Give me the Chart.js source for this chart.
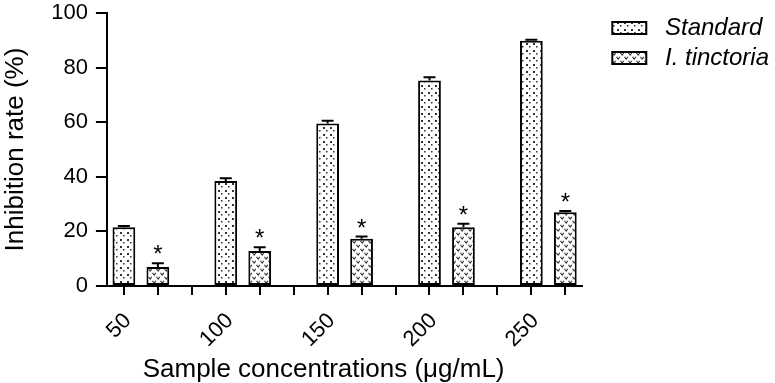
<!DOCTYPE html>
<html>
<head>
<meta charset="utf-8">
<script src="https://cdn.jsdelivr.net/npm/chart.js@4/dist/chart.umd.min.js"></script>
<style>
  html, body { margin: 0; padding: 0; background: #fff; }
  #wrap { width: 775px; height: 383px; }
</style>
</head>
<body>
<div id="wrap"><canvas id="c" width="775" height="383"></canvas></div>
<script>
// ---- data ----
const concentrations = ['50', '100', '150', '200', '250'];
const standardValues = [21.5, 38.5, 59.5, 75.3, 89.8];
const standardErrors = [0.5, 1.0, 1.0, 1.2, 0.4];
const tinctoriaValues = [7.0, 12.8, 17.3, 21.5, 27.0];
const tinctoriaErrors = [1.3, 1.4, 0.8, 1.3, 0.5];
const tinctoriaSignificant = [true, true, true, true, true];
const yTicks = [0, 20, 40, 60, 80, 100];
const xTitle = 'Sample concentrations (μg/mL)';
const yTitle = 'Inhibition rate (%)';

// slot layout: [standard, tinctoria, gap] per concentration (last gap dropped)
const slotLabels = [];
const stdSlots = [], tinSlots = [], stdErrSlots = [], tinErrSlots = [], sigSlots = [];
concentrations.forEach((c, i) => {
  slotLabels.push(c, '', '');
  stdSlots.push(standardValues[i], null, null);
  tinSlots.push(null, tinctoriaValues[i], null);
  stdErrSlots.push(standardErrors[i], null, null);
  tinErrSlots.push(null, tinctoriaErrors[i], null);
  sigSlots.push(false, tinctoriaSignificant[i], false);
});
slotLabels.pop(); stdSlots.pop(); tinSlots.pop(); stdErrSlots.pop(); tinErrSlots.pop(); sigSlots.pop();

// ---- patterns ----
function dotPattern() {
  const t = document.createElement('canvas');
  t.width = 7; t.height = 7;
  const g = t.getContext('2d');
  g.fillStyle = '#fff'; g.fillRect(0, 0, 7, 7);
  g.fillStyle = '#333';
  g.fillRect(1, 1, 2, 2);
  g.fillRect(4, 4, 1.5, 1.5);
  return g.createPattern(t, 'repeat');
}
function vPattern() {
  const t = document.createElement('canvas');
  t.width = 8; t.height = 8;
  const g = t.getContext('2d');
  g.fillStyle = '#fff'; g.fillRect(0, 0, 8, 8);
  g.strokeStyle = '#333'; g.lineWidth = 1.1;
  g.beginPath();
  g.moveTo(0.5, 0.8); g.lineTo(2.2, 3); g.lineTo(3.9, 0.8);
  g.moveTo(4.5, 4.8); g.lineTo(6.2, 7); g.lineTo(7.9, 4.8);
  g.stroke();
  return g.createPattern(t, 'repeat');
}

const FONT = '"Liberation Sans", Arial, sans-serif';

const errorBarPlugin = {
  id: 'errorBars',
  afterDatasetsDraw(chart) {
    const ctx = chart.ctx;
    const y = chart.scales.y;
    chart.data.datasets.forEach((ds, di) => {
      const meta = chart.getDatasetMeta(di);
      ds.data.forEach((v, i) => {
        if (v === null) return;
        const err = ds.errors[i];
        const bar = meta.data[i];
        const x = bar.x;
        const yTop = y.getPixelForValue(v);
        const yErr = y.getPixelForValue(v + err);
        ctx.save();
        ctx.strokeStyle = '#000';
        ctx.lineWidth = 2;
        ctx.beginPath();
        ctx.moveTo(x, yTop);
        ctx.lineTo(x, yErr);
        ctx.moveTo(x - 6, yErr);
        ctx.lineTo(x + 6, yErr);
        ctx.stroke();
        if (ds.significant && ds.significant[i]) {
          ctx.fillStyle = '#000';
          ctx.font = '24px ' + FONT;
          ctx.textAlign = 'center';
          ctx.textBaseline = 'alphabetic';
          ctx.fillText('*', x, yErr - 1);
        }
        ctx.restore();
      });
    });
  }
};

const xTitlePlugin = {
  id: 'xTitle',
  afterDraw(chart) {
    const ctx = chart.ctx;
    const a = chart.chartArea;
    ctx.save();
    ctx.fillStyle = '#000';
    ctx.font = '26px ' + FONT;
    ctx.textAlign = 'center';
    ctx.textBaseline = 'middle';
    ctx.fillText(xTitle, (a.left + a.right) / 2 - 21, 370);
    ctx.restore();
  }
};

const legendShift = {
  id: 'legendShift',
  beforeInit(chart) {
    const lg = chart.legend;
    if (!lg) return;
    const fit = lg.fit;
    lg.fit = function () { fit.call(this); this.width += 13; };
  },
  afterLayout(chart) {
    const lg = chart.legend;
    if (!lg) return;
    lg.left += 24; lg.right += 24;
    lg.top += 10; lg.bottom += 10;
  }
};

new Chart(document.getElementById('c'), {
  type: 'bar',
  data: {
    labels: slotLabels,
    datasets: [
      {
        label: 'Standard',
        data: stdSlots,
        errors: stdErrSlots,
        backgroundColor: dotPattern(),
        borderColor: '#000',
        borderWidth: 2,
        borderSkipped: false,
        barPercentage: 0.67,
        categoryPercentage: 1.0
      },
      {
        label: 'I. tinctoria',
        data: tinSlots,
        errors: tinErrSlots,
        significant: sigSlots,
        backgroundColor: vPattern(),
        borderColor: '#000',
        borderWidth: 2,
        borderSkipped: false,
        barPercentage: 0.67,
        categoryPercentage: 1.0
      }
    ]
  },
  options: {
    responsive: false,
    animation: false,
    devicePixelRatio: 1,
    datasets: { bar: { grouped: false } },
    layout: { padding: { left: 0, right: 7, top: 0, bottom: 0 } },
    plugins: {
      legend: {
        position: 'right',
        align: 'start',
        labels: {
          boxWidth: 34,
          boxHeight: 12,
          padding: 6,
          color: '#000',
          font: { family: FONT, size: 24, style: 'italic' },
          generateLabels(chart) {
            const items = Chart.defaults.plugins.legend.labels.generateLabels(chart);
            items.forEach(it => { it.text = ' ' + it.text; it.lineWidth = 2; });
            return items;
          }
        }
      },
      tooltip: { enabled: false }
    },
    scales: {
      x: {
        offset: true,
        afterFit(scale) { scale.paddingLeft = 0; scale.paddingRight = 0; scale.height = 97; },
        grid: {
          display: true, offset: false, drawOnChartArea: false, drawTicks: true,
          tickLength: 9, color: '#000', lineWidth: 2
        },
        border: { display: true, color: '#000', width: 2 },
        ticks: {
          autoSkip: false, maxRotation: 45, minRotation: 45, padding: 13, labelOffset: 4,
          color: '#000', font: { family: FONT, size: 22 }
        },
        title: { display: false, text: xTitle }
      },
      y: {
        min: 0, max: 100,
        afterBuildTicks(scale) { scale.ticks = yTicks.map(v => ({ value: v })); },
        afterFit(scale) { scale.paddingTop = 13; scale.paddingBottom = 13; },
        grid: {
          display: true, drawOnChartArea: false, drawTicks: true,
          tickLength: 11, color: '#000', lineWidth: 2
        },
        border: { display: true, color: '#000', width: 2 },
        ticks: { padding: 8, color: '#000', font: { family: FONT, size: 22 } },
        title: {
          display: true, text: yTitle, color: '#000',
          font: { family: FONT, size: 26 }, padding: { top: 0, bottom: 12 }
        }
      }
    }
  },
  plugins: [errorBarPlugin, xTitlePlugin, legendShift]
});
</script>
</body>
</html>
